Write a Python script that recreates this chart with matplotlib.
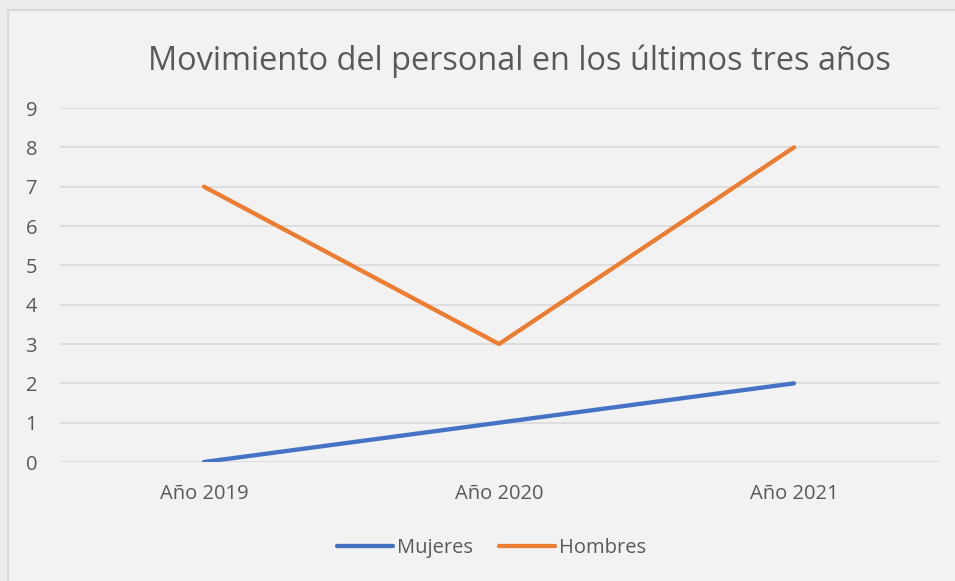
import matplotlib
matplotlib.use("Agg")
import matplotlib.pyplot as plt
from matplotlib.patches import Rectangle

years = ["Año 2019", "Año 2020", "Año 2021"]
mujeres = [0, 1, 2]
hombres = [7, 3, 8]
title = "Movimiento del personal en los últimos tres años"

plt.rcParams['font.family'] = ['Open Sans', 'DejaVu Sans']
text_color = "#595959"

W, H = 955, 581
fig = plt.figure(figsize=(W / 100, H / 100), dpi=100)
fig.patch.set_facecolor("#ececec")
fig.patches.append(Rectangle((8 / W, -0.1), 1.1, (H - 10) / H + 0.1,
                             transform=fig.transFigure, facecolor="#f2f2f2",
                             edgecolor="#d9d9d9", linewidth=1.5, zorder=-5))

ax = fig.add_axes([60 / W, 119 / H, 879 / W, 354 / H])
ax.set_zorder(2)
ax.set_facecolor("none")
x = range(len(years))
ax.plot(x, mujeres, color="#4472C4", lw=3.1, solid_capstyle="round", label="Mujeres")
ax.plot(x, hombres, color="#ED7D31", lw=3.1, solid_capstyle="round", label="Hombres")

ax.set_xlim(-0.488, 2.4915)
ax.set_ylim(0, 9)
ax.set_yticks(range(10))
ax.set_xticks(list(x))
ax.set_xticklabels(years)
ax.grid(axis="y", color="#d9d9d9", lw=1.2)
ax.set_axisbelow(True)
for s in ax.spines.values():
    s.set_visible(False)
ax.tick_params(length=0, labelsize=14.5, colors=text_color)
ax.tick_params(axis="y", pad=16.5)
ax.tick_params(axis="x", pad=16)

fig.text(519 / W, 1 - 61 / H, title, ha="center", va="center",
         fontsize=23.4, color=text_color)

fig.legend(loc="center", bbox_to_anchor=(491.5 / W, 1 - 548 / H), ncol=2, frameon=False,
           fontsize=14.5, labelcolor=text_color, handlelength=2.8,
           handletextpad=0.2, columnspacing=1.25)

fig.savefig("out.png", dpi=100, facecolor=fig.get_facecolor())
